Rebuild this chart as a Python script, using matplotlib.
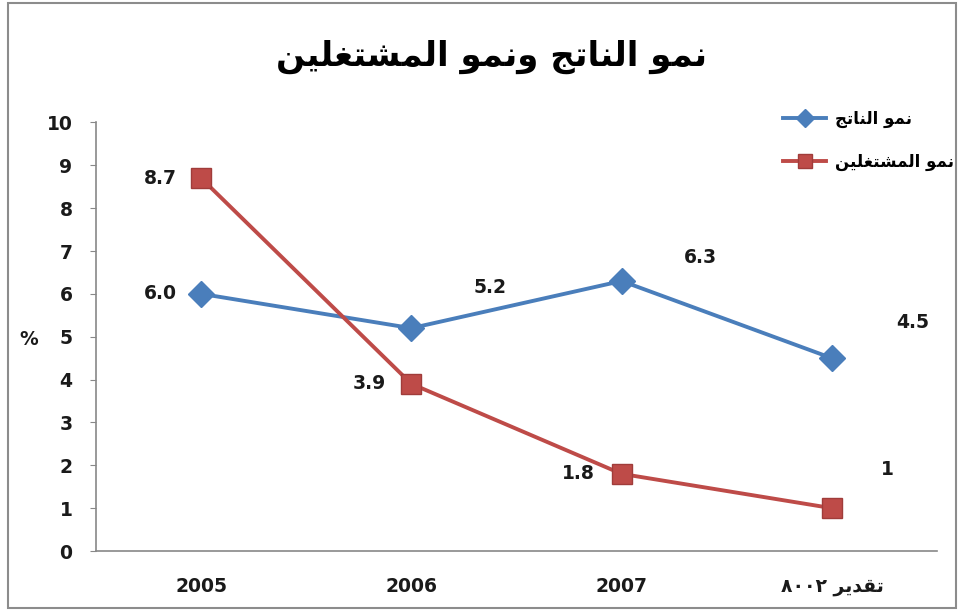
import matplotlib
matplotlib.use("Agg")
import matplotlib.pyplot as plt
from matplotlib.patches import Rectangle

# ---- data ----
categories = ["2005", "2006", "2007", "\u0668\u0660\u0660\u0662 \uFEAE\uFEF3\uFEAA\uFED8\uFE97"]
output_growth = [6.0, 5.2, 6.3, 4.5]
employment_growth = [8.7, 3.9, 1.8, 1.0]
output_labels = ["6.0", "5.2", "6.3", "4.5"]
employment_labels = ["8.7", "3.9", "1.8", "1"]
y_ticks = list(range(0, 11))

# Arabic text (presentation forms in visual order)
title_text = ("\uFEE6\uFEF4\uFEE0\uFED0\uFE98\uFEB8\uFEE4\uFEDF\uFE8D "
              "\uFEEE\uFEE4\uFEE7\uFEED "
              "\uFE9E\uFE97\uFE8E\uFEE8\uFEDF\uFE8D "
              "\uFEEE\uFEE4\uFEE7")
legend_output = "\uFE9E\uFE97\uFE8E\uFEE8\uFEDF\uFE8D \uFEEE\uFEE4\uFEE7"
legend_employment = "\uFEE6\uFEF4\uFEE0\uFED0\uFE98\uFEB8\uFEE4\uFEDF\uFE8D \uFEEE\uFEE4\uFEE7"

# label offsets (points)
output_offsets = [(-29, 0), (57, 29), (57, 17), (58, 26)]
employment_offsets = [(-29, 0), (-30, 0), (-31, 0), (40, 28)]

blue = "#4A7EBB"
red = "#BE4B48"

plt.rcParams['font.family'] = ['DejaVu Sans']

fig = plt.figure(figsize=(9.63, 6.10), dpi=100)
ax = fig.add_axes([0.0997, 0.0967, 0.8733, 0.7026])

x = list(range(len(categories)))
l1, = ax.plot(x, output_growth, color=blue, lw=2.8, marker="D", markersize=13.5,
              markerfacecolor=blue, markeredgecolor=blue, label=legend_output)
l2, = ax.plot(x, employment_growth, color=red, lw=2.8, marker="s", markersize=14.5,
              markerfacecolor=red, markeredgecolor="#A03C3A", label=legend_employment)

for xi, v, t, off in zip(x, output_growth, output_labels, output_offsets):
    ax.annotate(t, (xi, v), xytext=off, textcoords="offset points",
                ha="center", va="center", fontsize=13.5, fontweight="bold", color="#1a1a1a")
for xi, v, t, off in zip(x, employment_growth, employment_labels, employment_offsets):
    ax.annotate(t, (xi, v), xytext=off, textcoords="offset points",
                ha="center", va="center", fontsize=13.5, fontweight="bold", color="#1a1a1a")

ax.set_xlim(-0.5, len(categories) - 0.5)
ax.set_ylim(0, 10)
ax.set_yticks(y_ticks)
ax.set_xticks(x)
ax.set_xticklabels(categories)
for lab in ax.get_xticklabels() + ax.get_yticklabels():
    lab.set_fontweight("bold")
    lab.set_fontsize(13.5)
    lab.set_color("#1a1a1a")
ax.tick_params(axis="x", length=0, pad=19)
ax.tick_params(axis="y", length=4, color="#888888", pad=13)
for s in ["top", "right"]:
    ax.spines[s].set_visible(False)
for s in ["left", "bottom"]:
    ax.spines[s].set_color("#888888")
    ax.spines[s].set_linewidth(1.2)

fig.text(29 / 963, 1 - 340 / 610, "%", ha="center", va="center",
         fontsize=13.5, fontweight="bold", color="#1a1a1a")

fig.text(492 / 963, 1 - 57 / 610, title_text, ha="center", va="center",
         fontsize=24.5, fontweight="bold", color="black")

leg = fig.legend(handles=[l1, l2], loc="upper left", bbox_to_anchor=(768 / 963, 1 - 95 / 610),
                 frameon=False, prop={"weight": "bold", "size": 12},
                 handlelength=2.6, labelspacing=1.5, handletextpad=0.5, markerscale=0.7)

fig.patches.append(Rectangle((8 / 963, 2 / 610), 948 / 963, 605 / 610, transform=fig.transFigure,
                             fill=False, edgecolor="#8c8c8c", linewidth=1.5))

fig.savefig("out.png", dpi=100)
